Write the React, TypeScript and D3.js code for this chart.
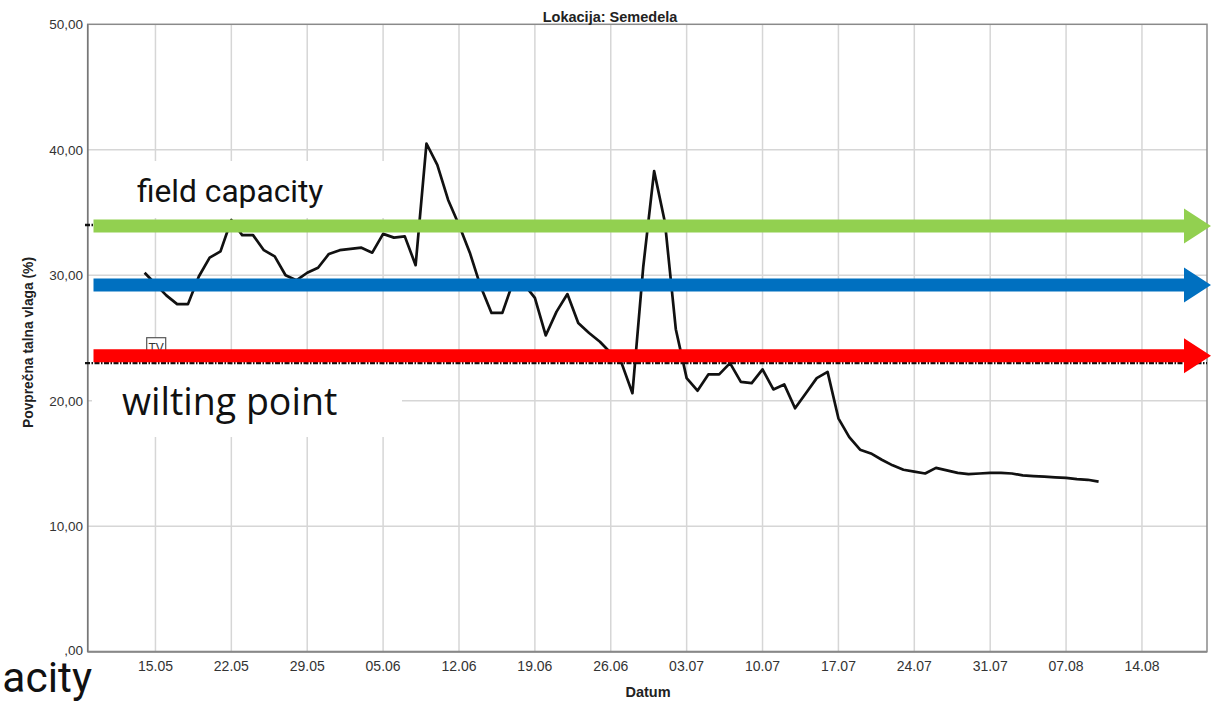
import React from "react";
import * as d3 from "d3";

const YEAR = "2021";

const dateLabels = [
  "14.05","15.05","16.05","17.05","18.05","19.05","20.05","21.05","22.05","23.05",
  "24.05","25.05","26.05","27.05","28.05","29.05","30.05","31.05",
  "01.06","02.06","03.06","04.06","05.06","06.06","07.06","08.06","09.06","10.06",
  "11.06","12.06","13.06","14.06","15.06","16.06","17.06","18.06","19.06","20.06",
  "21.06","22.06","23.06","24.06","25.06","26.06","27.06","28.06","29.06","30.06",
  "01.07","02.07","03.07","04.07","05.07","06.07","07.07","08.07","09.07","10.07",
  "11.07","12.07","13.07","14.07","15.07","16.07","17.07","18.07","19.07","20.07",
  "21.07","22.07","23.07","24.07","25.07","26.07","27.07","28.07","29.07","30.07","31.07",
  "01.08","02.08","03.08","04.08","05.08","06.08","07.08","08.08","09.08","10.08",
];

const moisture = [
  30.2, 29.3, 28.4, 27.7, 27.7, 29.9, 31.4, 31.9, 34.4, 33.2,
  33.2, 32.0, 31.5, 30.0, 29.6, 30.2, 30.6, 31.7,
  32.0, 32.1, 32.2, 31.8, 33.3, 33.0, 33.1, 30.8, 40.5, 38.8,
  36.0, 34.0, 31.8, 29.1, 27.0, 27.0, 29.5, 29.3, 28.2, 25.2,
  27.1, 28.5, 26.2, 25.4, 24.7, 23.8, 23.0, 20.6, 30.7, 38.3,
  34.2, 25.7, 21.8, 20.8, 22.1, 22.1, 23.0, 21.5, 21.4, 22.5,
  20.9, 21.3, 19.4, 20.6, 21.8, 22.3, 18.6, 17.1, 16.1, 15.8,
  15.3, 14.85, 14.5, 14.35, 14.2, 14.65, 14.45, 14.25, 14.15, 14.2, 14.25,
  14.25, 14.2, 14.05, 14.0, 13.95, 13.9, 13.85, 13.75, 13.7, 13.55,
];

const xTickLabels = ["15.05","22.05","29.05","05.06","12.06","19.06","26.06","03.07","10.07","17.07","24.07","31.07","07.08","14.08"];
const yTickValues = [0, 10, 20, 30, 40, 50];
const yTickLabels = [",00", "10,00", "20,00", "30,00", "40,00", "50,00"];

const domainStart = "08.05.2021 18";
const domainEnd = "20.08.2021 00";

const refLevels = [34.0, 23.0];
const arrowLevels = [33.93, 29.22, 23.59];
const arrowColors = ["#92d050", "#0070c0", "#ff0000"];

const W = 1211;
const H = 701;
const plotLeft = 87.7;
const plotRight = 1207;
const plotTop = 24.3;
const plotBottom = 651.7;

const parseDay = d3.timeParse("%d.%m.%Y");
const parseHour = d3.timeParse("%d.%m.%Y %H");

export default function App() {
  const x = d3
    .scaleTime()
    .domain([parseHour(domainStart) as Date, parseHour(domainEnd) as Date])
    .range([plotLeft, plotRight]);
  const y = d3.scaleLinear().domain([0, 50]).range([plotBottom, plotTop]);

  const points = dateLabels.map((d, i) => ({ date: parseDay(d + "." + YEAR) as Date, v: moisture[i] }));
  const line = d3
    .line<{ date: Date; v: number }>()
    .x((d) => x(d.date))
    .y((d) => y(d.v));

  const xTicks = xTickLabels.map((l) => ({ label: l, pos: x(parseDay(l + "." + YEAR) as Date) }));

  const arrowPath = (v: number) => {
    const cy = y(v);
    const x0 = 93.5;
    const xh = 1184;
    const xt = 1211;
    const sh = 6.5;
    const hh = 17.5;
    return `M${x0},${cy - sh}L${xh},${cy - sh}L${xh},${cy - hh}L${xt},${cy}L${xh},${cy + hh}L${xh},${cy + sh}L${x0},${cy + sh}Z`;
  };

  const axisFont = "Arial, 'Liberation Sans', sans-serif";

  return (
    <svg
      width={W}
      height={H}
      style={{ position: "absolute", left: 0, top: 0, background: "#fff" }}
    >
      <rect x={0} y={0} width={W} height={H} fill="#fff" />
      {/* gridlines */}
      {xTicks.map((t) => (
        <line key={t.label} x1={t.pos} x2={t.pos} y1={plotTop} y2={plotBottom} stroke="#d6d6d6" strokeWidth={1.5} />
      ))}
      {yTickValues.slice(1, -1).map((v) => (
        <line key={v} x1={plotLeft} x2={plotRight} y1={y(v)} y2={y(v)} stroke="#d6d6d6" strokeWidth={1.5} />
      ))}
      {/* frame */}
      <rect
        x={plotLeft}
        y={plotTop}
        width={plotRight - plotLeft}
        height={plotBottom - plotTop}
        fill="none"
        stroke="#8a8a8a"
        strokeWidth={1.5}
      />
      <line x1={plotLeft} x2={plotRight} y1={plotBottom} y2={plotBottom} stroke="#888" strokeWidth={2} />
      <line x1={plotLeft} x2={plotLeft} y1={plotTop} y2={plotBottom} stroke="#777" strokeWidth={1.5} />

      {/* data line */}
      <path d={line(points) || ""} fill="none" stroke="#111" strokeWidth={2.7} strokeLinejoin="round" />

      {/* reference lines */}
      {refLevels.map((v) => (
        <line
          key={v}
          x1={85}
          x2={plotRight}
          y1={y(v)}
          y2={y(v)}
          stroke="#111"
          strokeWidth={2.4}
          strokeDasharray="5,1.5,1.5,1.5"
        />
      ))}

      {/* TV label box */}
      <rect x={146.7} y={337.7} width={19} height={18} fill="#fff" stroke="#555" strokeWidth={1.2} />
      <text x={156.2} y={352} fontFamily={axisFont} fontSize={12} textAnchor="middle" fill="#333">
        TV
      </text>

      {/* white annotation boxes */}
      <rect x={95} y={161} width={305} height={57} fill="#fff" />
      <rect x={92} y={365} width={310} height={72} fill="#fff" />

      {/* arrows */}
      {arrowLevels.map((v, i) => (
        <path key={i} d={arrowPath(v)} fill={arrowColors[i]} />
      ))}

      {/* annotation text */}
      <text x={137} y={201.7} fontFamily="Roboto, sans-serif" fontSize={31.7} fill="#111">
        field capacity
      </text>
      <text x={122} y={415} fontFamily="'Open Sans', sans-serif" fontSize={37.5} fill="#111">
        wilting point
      </text>
      <text x={92} y={691.5} fontFamily="Roboto, sans-serif" fontSize={42.5} fill="#111" textAnchor="end">
        acity
      </text>

      {/* y tick labels */}
      {yTickValues.map((v, i) => (
        <text
          key={v}
          x={83}
          y={y(v) + (v === 0 ? 3 : 5)}
          fontFamily={axisFont}
          fontSize={13.5}
          textAnchor="end"
          fill="#333"
        >
          {yTickLabels[i]}
        </text>
      ))}
      {/* x tick labels */}
      {xTicks.map((t) => (
        <text key={t.label} x={t.pos} y={670.7} fontFamily={axisFont} fontSize={14} textAnchor="middle" fill="#333">
          {t.label}
        </text>
      ))}

      {/* titles */}
      <text x={610} y={21.5} fontFamily={axisFont} fontSize={14.5} fontWeight="bold" textAnchor="middle" fill="#222">
        Lokacija: Semedela
      </text>
      <text x={648} y={697} fontFamily={axisFont} fontSize={14.5} fontWeight="bold" textAnchor="middle" fill="#222">
        Datum
      </text>
      <text
        transform={`translate(33,342.5) rotate(-90)`}
        fontFamily={axisFont}
        fontSize={13.8}
        fontWeight="bold"
        textAnchor="middle"
        fill="#222"
      >
        Povprečna talna vlaga (%)
      </text>
    </svg>
  );
}
